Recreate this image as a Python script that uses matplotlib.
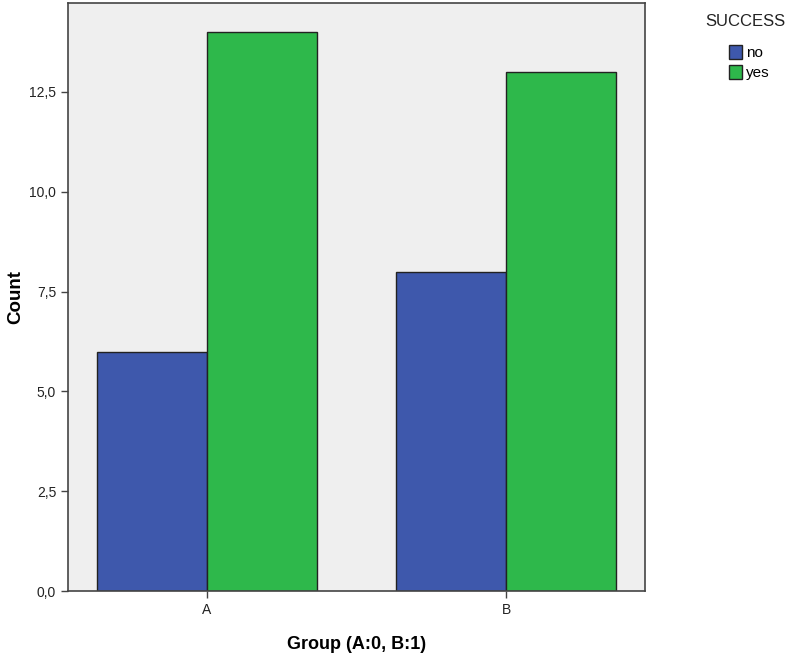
import matplotlib.pyplot as plt
import numpy as np
from matplotlib.patches import Patch
from matplotlib.ticker import FuncFormatter

groups = ["A", "B"]
success_levels = ["no", "yes"]
counts_no = [6, 8]
counts_yes = [14, 13]
colors = {"no": "#3e58ac", "yes": "#2eb84b"}

plt.rcParams['font.family'] = ['Liberation Sans', 'DejaVu Sans']

fig = plt.figure(figsize=(7.96, 6.59), dpi=100)
ax = fig.add_axes([0.0854, 0.103, 0.725, 0.892])
ax.set_facecolor("#efefef")

x = np.arange(len(groups))
width = 0.368
ax.bar(x - width / 2, counts_no, width=width, color=colors["no"], edgecolor="#222222", linewidth=1.0, zorder=2)
ax.bar(x + width / 2, counts_yes, width=width, color=colors["yes"], edgecolor="#222222", linewidth=1.0, zorder=2)

ax.set_xlim(-0.465, 1.465)
ax.set_ylim(0, 14.72)
ax.set_xticks(x)
ax.set_xticklabels(groups)
ax.set_yticks(np.arange(0, 14, 2.5))
ax.yaxis.set_major_formatter(FuncFormatter(lambda v, p: f"{v:.1f}".replace(".", ",")))
ax.tick_params(axis="both", labelsize=10, length=5, width=1, color="#444444", labelcolor="#222222")

for s in ax.spines.values():
    s.set_color("#444444")
    s.set_linewidth(1.2)

ax.set_xlabel("Group (A:0, B:1)", fontsize=13, fontweight="bold", labelpad=14)
ax.set_ylabel("Count", fontsize=13.5, fontweight="bold")
ax.yaxis.set_label_coords(-0.075, 0.5)

fig.text(0.886, 0.967, "SUCCESS", fontsize=12, color="#222222", va="center", ha="left")
handles = [Patch(facecolor=colors[k], edgecolor="#222222", label=k) for k in success_levels]
fig.legend(handles=handles, loc="upper left", bbox_to_anchor=(0.904, 0.945),
           frameon=False, fontsize=11, handlelength=0.85, handleheight=1.0,
           handletextpad=0.25, labelspacing=0.3, borderpad=0.1)

fig.savefig("out.png", dpi=100)
